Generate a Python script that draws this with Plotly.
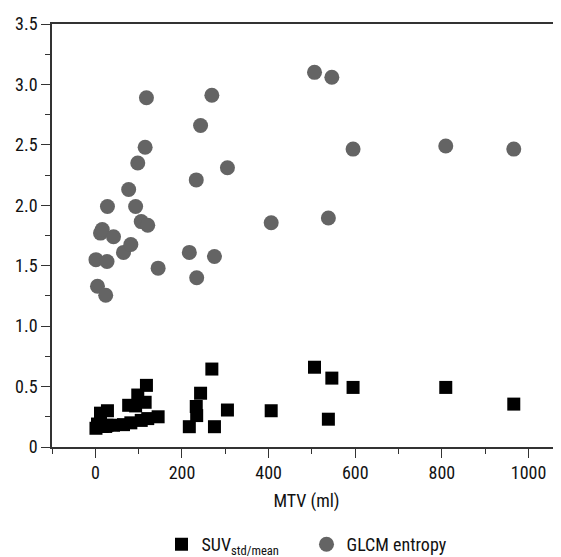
import plotly.graph_objects as go

mtv = [1.5, 5, 12, 16, 24, 27, 28, 42, 65, 77, 82, 93, 98, 106, 115, 118, 121, 145,
       217, 233, 234, 243, 269, 275, 305, 406, 506, 538, 546, 595, 809, 966]
glcm_entropy = [1.55, 1.33, 1.77, 1.80, 1.256, 1.535, 1.99, 1.74, 1.61, 2.13, 1.675, 1.99,
                2.35, 1.865, 2.48, 2.89, 1.835, 1.48, 1.61, 2.21, 1.40, 2.66, 2.91, 1.576,
                2.31, 1.855, 3.10, 1.895, 3.06, 2.465, 2.49, 2.465]
suv_std_mean = [0.155, 0.19, 0.28, 0.17, 0.17, 0.18, 0.30, 0.18, 0.185, 0.345, 0.20, 0.34,
                0.43, 0.22, 0.37, 0.51, 0.235, 0.25, 0.168, 0.335, 0.26, 0.445, 0.645, 0.168,
                0.306, 0.30, 0.66, 0.23, 0.57, 0.493, 0.493, 0.355]

y_tickvals = [0, 0.5, 1.0, 1.5, 2.0, 2.5, 3.0, 3.5]
y_ticktext = ["0", "0.5", "1.0", "1.5", "2.0", "2.5", "3.0", "3.5"]
x_tickvals = [0, 200, 400, 600, 800, 1000]

FONT = "Liberation Sans Narrow, Roboto Condensed, Arial Narrow, sans-serif"

fig = go.Figure()
fig.add_trace(go.Scatter(
    x=mtv, y=suv_std_mean, mode="markers", name="SUV<sub>std/mean</sub>",
    marker=dict(symbol="square", size=13, color="#000000"),
))
fig.add_trace(go.Scatter(
    x=mtv, y=glcm_entropy, mode="markers", name="GLCM entropy",
    marker=dict(symbol="circle", size=15, color="#646464"),
))

axis_line = "#333333"
fig.update_layout(
    width=561, height=557,
    margin=dict(l=44, r=8, t=16, b=118, autoexpand=False),
    paper_bgcolor="white", plot_bgcolor="white",
    font=dict(family=FONT, size=17, color="#111111"),
    showlegend=True,
    legend=dict(orientation="h", x=0.5, xanchor="center", y=-0.187, yanchor="top",
                font=dict(size=18), itemwidth=30, tracegroupgap=0,
                entrywidth=100, entrywidthmode="pixels"),
    xaxis=dict(
        range=[-100, 1075], showgrid=False, zeroline=False, automargin=False,
        showline=True, linecolor=axis_line, linewidth=1.5, mirror=True,
        tickmode="array", tickvals=x_tickvals,
        ticks="outside", ticklen=9, tickwidth=1.3, tickcolor=axis_line,
        minor=dict(tickvals=[-100, 100, 300, 500, 700, 900], ticks="outside",
                   ticklen=5, tickwidth=1.3, tickcolor=axis_line),
        title=dict(text="MTV (ml)", font=dict(size=18), standoff=12),
        tickfont=dict(size=18),
    ),
    yaxis=dict(
        range=[0, 3.5], showgrid=False, zeroline=False, automargin=False,
        showline=True, linecolor=axis_line, linewidth=1.5,
        tickmode="array", tickvals=y_tickvals, ticktext=y_ticktext,
        ticks="outside", ticklen=9, tickwidth=1.3, tickcolor=axis_line,
        minor=dict(tickvals=[0.25, 0.75, 1.25, 1.75, 2.25, 2.75, 3.25], ticks="outside",
                   ticklen=5, tickwidth=1.3, tickcolor=axis_line),
        tickfont=dict(size=18),
    ),
)

fig.write_html("out.html")
